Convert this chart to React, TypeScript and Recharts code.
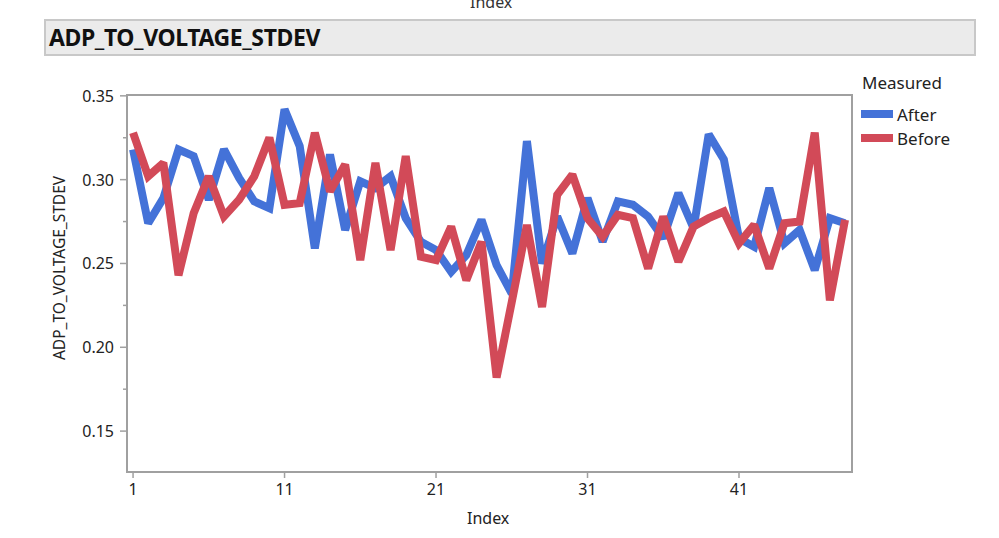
import React from 'react';
import { LineChart, Line, XAxis, YAxis, ReferenceArea } from 'recharts';

const indices = [1,2,3,4,5,6,7,8,9,10,11,12,13,14,15,16,17,18,19,20,21,22,23,24,25,26,27,28,29,30,31,32,33,34,35,36,37,38,39,40,41,42,43,44,45,46,47,48];
const afterValues = [0.318,0.274,0.289,0.318,0.314,0.288,0.318,0.301,0.287,0.283,0.342,0.320,0.259,0.315,0.270,0.299,0.295,0.302,0.277,0.263,0.258,0.245,0.255,0.276,0.249,0.232,0.323,0.250,0.278,0.256,0.289,0.263,0.287,0.285,0.278,0.265,0.292,0.271,0.327,0.312,0.265,0.260,0.295,0.262,0.270,0.246,0.277,0.274];
const beforeValues = [0.328,0.302,0.310,0.243,0.280,0.302,0.278,0.288,0.302,0.325,0.285,0.286,0.328,0.293,0.309,0.252,0.310,0.258,0.314,0.254,0.252,0.272,0.240,0.263,0.182,0.227,0.273,0.224,0.291,0.303,0.277,0.266,0.279,0.277,0.247,0.278,0.251,0.272,0.277,0.281,0.262,0.273,0.247,0.274,0.275,0.328,0.228,0.276];
const xTicks = [1, 11, 21, 31, 41];
const yTicks = [0.15, 0.175, 0.2, 0.225, 0.25, 0.275, 0.3, 0.325, 0.35];
const seriesNames = ['After', 'Before'];
const seriesColors = ['#4472D8', '#D24A58'];

const data = indices.map((idx, k) => ({ index: idx, After: afterValues[k], Before: beforeValues[k] }));

const FONT = '"Noto Sans", "Open Sans", sans-serif';
const X_DOMAIN: [number, number] = [0.6, 48.46];
const Y_DOMAIN: [number, number] = [0.1256, 0.3505];

const YTick = (props: any) => {
  const { x, y, payload } = props;
  const v = payload.value;
  const major = Math.abs(v * 20 - Math.round(v * 20)) < 1e-6;
  return (
    <g>
      <line x1={x} x2={x - (major ? 7 : 4)} y1={y} y2={y} stroke="#a0a0a0" strokeWidth={1.5} />
      {major && (
        <text x={x - 13} y={y} textAnchor="end" dominantBaseline="central" fontSize={16} fill="#222" fontFamily={FONT}>
          {v.toFixed(2)}
        </text>
      )}
    </g>
  );
};

const XTick = (props: any) => {
  const { x, y, payload } = props;
  return (
    <g>
      <line x1={x} x2={x} y1={y} y2={y + 6} stroke="#a0a0a0" strokeWidth={1.5} />
      <text x={x} y={y + 17} textAnchor="middle" dominantBaseline="central" fontSize={16} fill="#222" fontFamily={FONT}>
        {payload.value}
      </text>
    </g>
  );
};

export default function App() {
  return (
    <div style={{ position: 'absolute', left: 0, top: 0, width: 999, height: 538, overflow: 'hidden', background: '#fff', fontFamily: FONT }}>
      <div style={{ position: 'absolute', left: 470, top: -9, fontSize: 16, color: '#333' }}>Index</div>
      <div style={{ position: 'absolute', left: 44, top: 19, width: 928, height: 33, background: '#ebebeb', border: '2px solid #c8c8c8', boxSizing: 'content-box' }}>
        <div style={{ position: 'absolute', left: 3, top: 0, height: 33, lineHeight: '33px', fontSize: 23, fontWeight: 700, color: '#111', letterSpacing: -0.4 }}>ADP_TO_VOLTAGE_STDEV</div>
      </div>
      <div style={{ position: 'absolute', left: 0, top: 0 }}>
        <LineChart width={999} height={538} data={data} margin={{ top: 95, right: 147, bottom: 36, left: 67 }}>
          <XAxis
            dataKey="index"
            type="number"
            domain={X_DOMAIN}
            ticks={xTicks}
            allowDataOverflow
            axisLine={{ stroke: '#a0a0a0', strokeWidth: 2 }}
            tickLine={false}
            tickSize={0}
            tickMargin={0}
            tick={<XTick />}
            height={30}
            interval={0}
          />
          <YAxis
            type="number"
            domain={Y_DOMAIN}
            ticks={yTicks}
            allowDataOverflow
            axisLine={{ stroke: '#a0a0a0', strokeWidth: 2 }}
            tickLine={false}
            tickSize={0}
            tickMargin={0}
            tick={<YTick />}
            width={60}
            interval={0}
          />
          <ReferenceArea x1={X_DOMAIN[0]} x2={X_DOMAIN[1]} y1={Y_DOMAIN[0]} y2={Y_DOMAIN[1]} fill="none" stroke="#a0a0a0" strokeWidth={2} />
          {seriesNames.map((name, i) => (
            <Line
              key={name}
              dataKey={name}
              type="linear"
              stroke={seriesColors[i]}
              strokeWidth={8}
              strokeLinejoin="miter"
              strokeMiterlimit={2}
              dot={false}
              activeDot={false}
              isAnimationActive={false}
            />
          ))}
        </LineChart>
      </div>
      <div style={{ position: 'absolute', left: 59, top: 268, width: 0, height: 0 }}>
        <div style={{ position: 'absolute', left: 0, top: 0, transform: 'translate(-50%, -50%) rotate(-90deg)', whiteSpace: 'nowrap', fontSize: 15.5, color: '#222', transformOrigin: 'center' }}>
          ADP_TO_VOLTAGE_STDEV
        </div>
      </div>
      <div style={{ position: 'absolute', left: 467, top: 507, fontSize: 16, color: '#222' }}>Index</div>
      <div style={{ position: 'absolute', left: 862, top: 71, fontSize: 17, color: '#222' }}>Measured</div>
      {seriesNames.map((name, i) => (
        <div key={name} style={{ position: 'absolute', left: 861, top: 102 + i * 24, height: 24, display: 'flex', alignItems: 'center' }}>
          <div style={{ width: 32, height: 8, background: seriesColors[i], marginRight: 4 }} />
          <span style={{ fontSize: 17, color: '#222' }}>{name}</span>
        </div>
      ))}
    </div>
  );
}
